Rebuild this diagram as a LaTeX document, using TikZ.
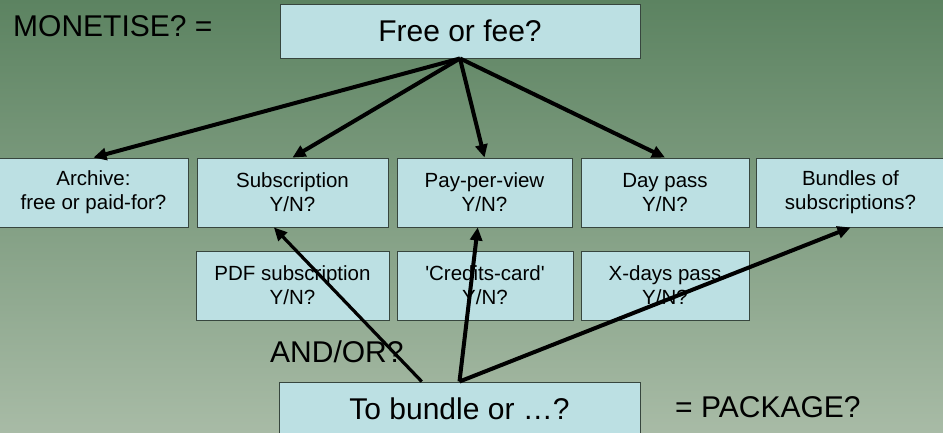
\documentclass[tikz,border=0pt]{standalone}
\usepackage{fontspec}
\setmainfont{Liberation Sans}
\usetikzlibrary{arrows.meta}
\definecolor{bgtop}{RGB}{92,131,97}
\definecolor{bgbot}{RGB}{168,187,166}
\definecolor{boxfill}{RGB}{188,224,227}
\definecolor{boxline}{RGB}{55,70,62}
\newcommand{\bigtxt}{\fontsize{30}{36}\selectfont}
\newcommand{\smalltxt}{\fontsize{20.5}{24}\selectfont}

\begin{document}
\begin{tikzpicture}[x=1pt,y=-1pt,
  bigbox/.style={draw=boxline,line width=0.9pt,fill=boxfill,minimum width=360pt,minimum height=54pt,inner sep=0pt,font=\bigtxt},
  smallbox/.style={draw=boxline,line width=0.9pt,fill=boxfill,minimum height=69pt,inner sep=0pt,align=center,font=\smalltxt},
  word/.style={inner sep=0pt,font=\bigtxt},
  link/.style={line width=4pt,-{Triangle[length=13pt,width=12pt]}}]
\useasboundingbox (0,0) rectangle (943,433);
\shade[top color=bgtop,bottom color=bgbot] (0,0) rectangle (943,433);

\node[bigbox] (free) at (460,31) {Free or fee?};
\node[smallbox,minimum width=189pt] (arch) at (93.5,192.5) {Archive:\\free or paid-for?};
\node[smallbox,minimum width=191pt] (sub) at (292.5,192.5) {Subscription\\Y/N?};
\node[smallbox,minimum width=175pt] (ppv) at (484.5,192.5) {Pay-per-view\\Y/N?};
\node[smallbox,minimum width=168pt] (day) at (665,192.5) {Day pass\\Y/N?};
\node[smallbox,minimum width=189pt] (bund) at (850.5,192.5) {Bundles of\\subscriptions?};
\node[smallbox,minimum width=193pt] (pdf) at (292.5,285.5) {PDF subscription\\Y/N?};
\node[smallbox,minimum width=176pt] (cred) at (485,285.5) {\textquotesingle Credits-card\textquotesingle\\Y/N?};
\node[smallbox,minimum width=168pt] (xday) at (665,285.5) {X-days pass\\Y/N?};
\node[bigbox,minimum width=361pt] (bun) at (459.5,409) {To bundle or \dots?};

\node[word,anchor=base west] (mon) at (13,37) {MONETISE? =};
\node[word,anchor=base west] (andor) at (270,362) {AND/OR?};
\node[word,anchor=base west] (pack) at (675,417) {= PACKAGE?};

\draw[link] (free.south)--(arch.north);
\draw[link] (free.south)--(sub.north);
\draw[link] (free.south)--(ppv.north);
\draw[link] (free.south)--(day.north);
\draw[link,line width=3.2pt] (bun.144)--(sub.-118);
\draw[link] (bun.north)--(ppv.-101);
\draw[link] (bun.north)--(bund.south);
\end{tikzpicture}
\end{document}
